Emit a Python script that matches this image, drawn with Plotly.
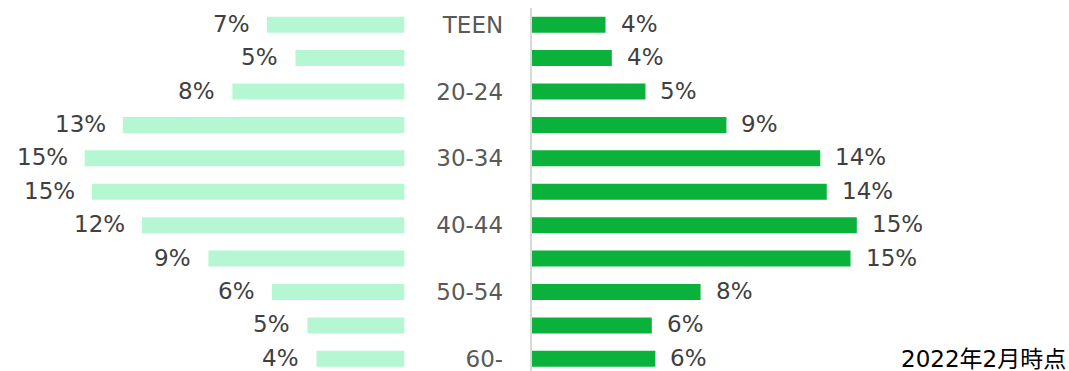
import plotly.graph_objects as go

# Age bands, top to bottom
age_groups = ["TEEN", "15-19", "20-24", "25-29", "30-34", "35-39",
              "40-44", "45-49", "50-54", "55-59", "60-"]
# Only every other band gets a printed label
tick_labels = ["TEEN", "", "20-24", "", "30-34", "", "40-44", "", "50-54", "", "60-"]

# Share of users per age band (%)
share_left = [6.55, 5.19, 8.19, 13.40, 15.21, 14.87, 12.49, 9.33, 6.31, 4.62, 4.19]
share_right = [3.52, 3.82, 5.42, 9.27, 13.73, 14.04, 15.47, 15.17, 8.04, 5.72, 5.89]

note_text = "2022年2月時点"

W, H = 1069, 371
LEFT_ZERO_PX = 404.6
RIGHT_ZERO_PX = 531.5
PX_PER_PCT = 21.03

COLOR_LEFT = "#B6F7D3"
COLOR_RIGHT = "#0AB23B"
LABEL_COLOR = "#404040"
FONT = "DejaVu Sans, Verdana, Noto Sans CJK JP, sans-serif"
FS = 23

fig = go.Figure()
fig.add_trace(go.Bar(y=age_groups, x=share_left, orientation="h",
                     marker=dict(color=COLOR_LEFT, line=dict(width=0)),
                     xaxis="x", yaxis="y", hoverinfo="skip"))
fig.add_trace(go.Bar(y=age_groups, x=share_right, orientation="h",
                     marker=dict(color=COLOR_RIGHT, line=dict(width=0)),
                     xaxis="x2", yaxis="y2", hoverinfo="skip"))

annotations = []
for cat, v in zip(age_groups, share_left):
    annotations.append(dict(x=v, y=cat, xref="x", yref="y", text=f"{v:.0f}%",
                            showarrow=False, xanchor="right", yanchor="middle",
                            xshift=-15, yshift=1,
                            font=dict(size=FS, color=LABEL_COLOR, family=FONT)))
for cat, v in zip(age_groups, share_right):
    annotations.append(dict(x=v, y=cat, xref="x2", yref="y2", text=f"{v:.0f}%",
                            showarrow=False, xanchor="left", yanchor="middle",
                            xshift=13, yshift=1,
                            font=dict(size=FS, color=LABEL_COLOR, family=FONT)))
annotations.append(dict(x=1, y=0, xref="paper", yref="paper", text=note_text,
                        showarrow=False, xanchor="right", yanchor="bottom",
                        xshift=-1, yshift=-3,
                        font=dict(size=FS, color="#000000", family=FONT)))

y_range = [10.365, -0.5]

fig.update_layout(
    width=W, height=H,
    margin=dict(l=0, r=0, t=8, b=0),
    paper_bgcolor="white", plot_bgcolor="white",
    showlegend=False,
    bargap=0.521,
    font=dict(family=FONT),
    annotations=annotations,
    xaxis=dict(domain=[0, LEFT_ZERO_PX / W],
               range=[LEFT_ZERO_PX / PX_PER_PCT, 0],
               visible=False, fixedrange=True),
    xaxis2=dict(domain=[RIGHT_ZERO_PX / W, 1],
                range=[0, (W - RIGHT_ZERO_PX) / PX_PER_PCT],
                visible=False, fixedrange=True),
    yaxis=dict(anchor="x", range=y_range, categoryorder="array",
               categoryarray=age_groups, visible=False, fixedrange=True),
    yaxis2=dict(anchor="x2", range=y_range, categoryorder="array",
                categoryarray=age_groups,
                tickmode="array", tickvals=age_groups, ticktext=tick_labels,
                ticks="outside", ticklen=22, tickcolor="rgba(0,0,0,0)",
                showline=True, linecolor="#D9D9D9", linewidth=1.5,
                showgrid=False, zeroline=False,
                tickfont=dict(size=FS, color="#595959", family=FONT),
                fixedrange=True),
)

fig.write_html("out.html")
